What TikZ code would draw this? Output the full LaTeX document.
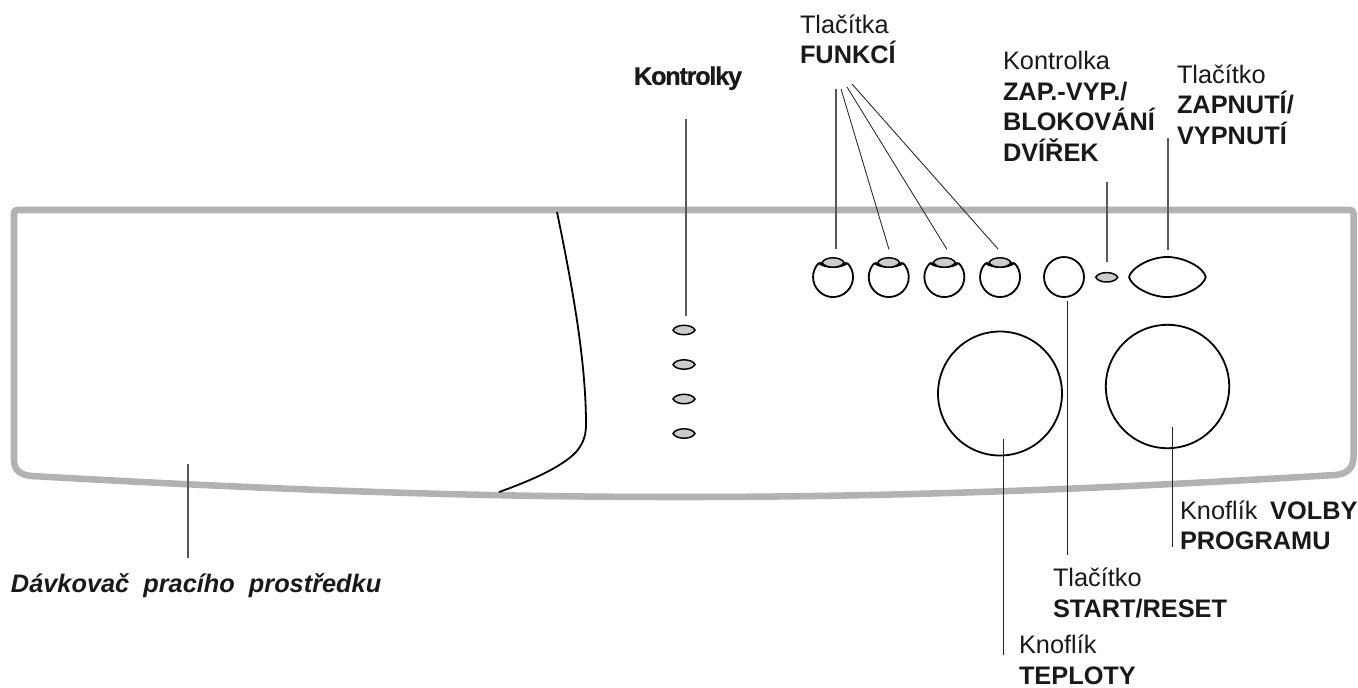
\documentclass[tikz,border=0pt]{standalone}
\usepackage{fontspec}
\setmainfont{Liberation Sans}
\definecolor{txt}{gray}{0.1}
\tikzset{
  lbl/.style={inner sep=0pt,outer sep=0pt,align=left,anchor=north west,text=txt,font=\fontsize{19pt}{22.9pt}\selectfont},
  lbltight/.style={lbl,font=\fontsize{19pt}{23pt}\selectfont},
  leader/.style={line width=0.65pt,draw=black!85},
  leadergrey/.style={line width=0.8pt,draw=black!65},
  ink/.style={line width=1.35pt,draw=black},
  lamp/.style={line width=1.1pt,draw=black,fill=black!20},
  frame/.style={line width=4.9pt,draw=black!30,line join=round},
  pt/.style={inner sep=0pt,outer sep=0pt,minimum size=0pt}
}
\newcommand{\lampshape}[3]{\path[lamp] (#1-#3,#2) .. controls (#1-#3*0.72,#2-#3*0.57) and (#1+#3*0.72,#2-#3*0.57) .. (#1+#3,#2) .. controls (#1+#3*0.72,#2+#3*0.57) and (#1-#3*0.72,#2+#3*0.57) .. (#1-#3,#2) -- cycle;}
\begin{document}
\begin{tikzpicture}[x=0.75pt,y=-0.75pt]
\useasboundingbox (0,0) rectangle (1358,687);
% frame
\path[frame] (14,213) .. controls (14,211) and (15,210) .. (17,210) -- (1350,210) .. controls (1352,210) and (1353.5,211) .. (1353.5,213) -- (1353.5,457) .. controls (1353.5,468) and (1347,474) .. (1335,475) .. controls (1100,489) and (900,497) .. (680,497) .. controls (460,497) and (260,489) .. (32,476) .. controls (20,475) and (14,470) .. (14,460) -- cycle;
% dispenser edge
\path[ink] (557,212) .. controls (572,285) and (586,360) .. (586,425) .. controls (586,437) and (582,445) .. (576,452) .. controls (562,467) and (530,481) .. (499,492);
% function buttons
\foreach \n/\x in {a/833,b/888.7,c/944.3,d/1000}{
  \node[pt] (f\n) at (\x,277) {};
  \path[ink] (\x-14.1,262.9) arc[start angle=135,end angle=405,x radius=20,y radius=-20];
  \path[ink,line width=1.9pt] (\x-14.1,262.9) .. controls (\x-7,268) and (\x+7,268) .. (\x+14.1,262.9);
  \lampshape{\x}{262.5}{11}
}
\node[pt] (startbtn) at (1064,277) {};
\draw[ink] (startbtn) circle[radius=20];
\lampshape{1106.7}{277.3}{11}
\node[pt] (doorlamp) at (1107,262) {};
\path[ink] (1129,277) .. controls (1131,268) and (1150,257) .. (1167,257) .. controls (1185,257) and (1204,268) .. (1205.7,277) .. controls (1204,286) and (1185,297) .. (1167,297) .. controls (1150,297) and (1131,286) .. (1129,277) -- cycle;
\node[pt] (powerbtn) at (1168,250) {};
% knobs
\node[pt] (tempknob) at (1000,393.5) {};
\draw[ink] (tempknob) circle[radius=62];
\node[pt] (progknob) at (1167.5,386.5) {};
\draw[ink] (progknob) circle[radius=61.7];
% indicator lamps
\foreach \y in {330,364.5,399,433.5}{\lampshape{684}{\y}{11}}
% labels
\node[lbl] (tfun) at (800,14.4) {Tlačítka\\\textbf{FUNKCÍ}};
\node[lbl,font=\fontsize{19pt}{25pt}\selectfont\bfseries] (tkon) at (634,66.4) {\addfontfeature{LetterSpace=-5,FakeBold=0.4}Kontrolky};
\node[lbl] (tzap) at (1003,51.4) {Kontrolka\\\textbf{ZAP.-VYP./}\\\textbf{BLOKOVÁNÍ}\\\textbf{DVÍŘEK}};
\node[lbl] (tpow) at (1177,64.4) {Tlačítko\\\textbf{ZAPNUTÍ/}\\\textbf{VYPNUTÍ}};
\node[lbltight] (tprog) at (1180,500.4) {Knoflík\hspace{9.5pt}\textbf{VOLBY}\\\textbf{PROGRAMU}};
\node[lbltight] (tstart) at (1053,568) {Tlačítko\\\textbf{START/RESET}};
\node[lbltight] (ttemp) at (1019,635) {Knoflík\\\textbf{TEPLOTY}};
\node[lbl] (tdav) at (11,573.4) {\textbf{\itshape Dávkovač\ \ pracího\ \ prostředku}};
% leaders
\coordinate (k1) at (686,119); \coordinate (k2) at (686,316);
\draw[leadergrey] (k1) -- (k2);
\coordinate (fa0) at (836,89); \coordinate (fa1) at (836,249);
\coordinate (fb0) at (841,89); \coordinate (fb1) at (889,249.5);
\coordinate (fc0) at (847,87); \coordinate (fc1) at (947,249.5);
\coordinate (fd0) at (852,84); \coordinate (fd1) at (998,249);
\draw[leadergrey] (fa0)--(fa1); \draw[leader] (fb0)--(fb1); \draw[leader] (fc0)--(fc1); \draw[leader] (fd0)--(fd1);
\coordinate (z0) at (1107,182); \draw[leadergrey] (z0) -- (doorlamp);
\coordinate (p0) at (1168,138); \draw[leadergrey] (p0) -- (powerbtn);
\coordinate (s0) at (1067,300.7); \coordinate (s1) at (1067,555); \draw[leader] (s0)--(s1);
\coordinate (t0) at (1003,439); \coordinate (t1) at (1003,655); \draw[leader] (t0)--(t1);
\coordinate (g0) at (1172,427); \coordinate (g1) at (1172,547); \draw[leader] (g0)--(g1);
\coordinate (d0) at (188,464); \coordinate (d1) at (188,558); \draw[leadergrey] (d0)--(d1);
\end{tikzpicture}
\end{document}
